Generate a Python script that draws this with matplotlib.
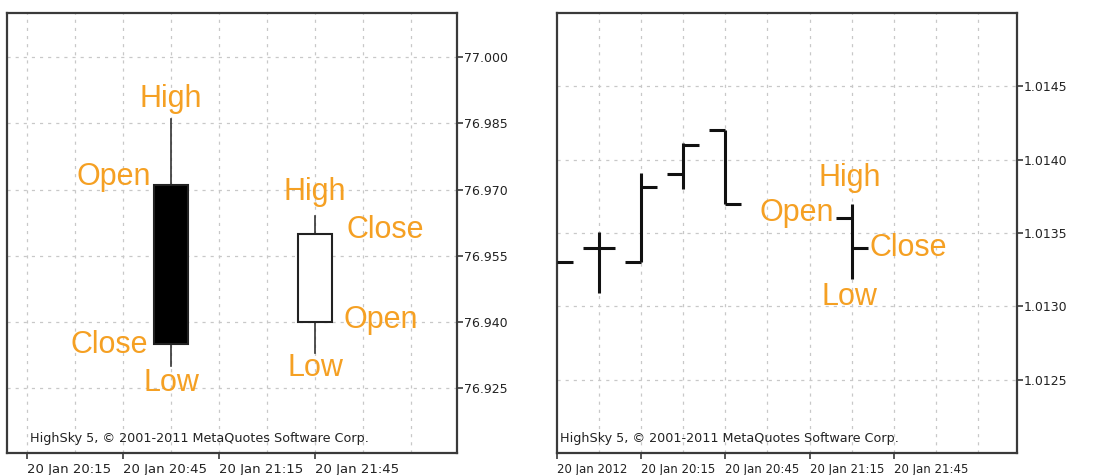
import matplotlib.pyplot as plt
from matplotlib.patches import Rectangle

# candlestick panel (left)
candle_x = [3, 6]
candle_open = [76.971, 76.940]
candle_high = [76.986, 76.964]
candle_low = [76.930, 76.933]
candle_close = [76.935, 76.960]
left_tick_pos = [0, 2, 4, 6]
left_tick_labels = ['20 Jan 20:15', '20 Jan 20:45', '20 Jan 21:15', '20 Jan 21:45']
left_yticks = [77.000, 76.985, 76.970, 76.955, 76.940, 76.925]

# OHLC bar panel (right)
bar_x = [0, 1, 2, 3, 4, 7]
bar_open = [1.01330, 1.01340, 1.01330, 1.01390, 1.01420, 1.01360]
bar_high = [1.01330, 1.01351, 1.01391, 1.01411, 1.01420, 1.01370]
bar_low = [1.01330, 1.01309, 1.01330, 1.01380, 1.01370, 1.01319]
bar_close = [1.01330, 1.01340, 1.01381, 1.01410, 1.01370, 1.01340]
right_tick_pos = [0, 2, 4, 6, 8]
right_tick_labels = ['20 Jan 2012', '20 Jan 20:15', '20 Jan 20:45', '20 Jan 21:15', '20 Jan 21:45']
right_yticks = [1.0145, 1.0140, 1.0135, 1.0130, 1.0125]

orange = '#F5A023'
frame = '#3a3a3a'
copyright = 'HighSky 5, \u00a9 2001-2011 MetaQuotes Software Corp.'

fig = plt.figure(figsize=(11.04, 4.75), dpi=100)
ax1 = fig.add_axes([7 / 1104, 22 / 475, 450 / 1104, 440 / 475])
ax2 = fig.add_axes([557 / 1104, 22 / 475, 460 / 1104, 440 / 475])


def style_axis(ax, xgrid, ygrid, xticks, xlabels, xsize, yticks, yfmt):
    for s in ax.spines.values():
        s.set_color(frame)
        s.set_linewidth(1.6)
    for g in xgrid:
        ax.axvline(g, color='#c8c8c8', lw=0.9, ls=(0, (2.5, 4)), zorder=0)
    for g in ygrid:
        ax.axhline(g, color='#c8c8c8', lw=0.9, ls=(0, (2.5, 4)), zorder=0)
    ax.yaxis.tick_right()
    ax.set_yticks(yticks)
    ax.set_yticklabels([yfmt.format(v) for v in yticks], fontsize=9, color='#222222')
    ax.set_xticks(xticks)
    ax.set_xticklabels(xlabels, fontsize=xsize, color='#222222', ha='left')
    ax.tick_params(axis='both', length=4, width=1.2, color=frame, pad=1)
    ax.tick_params(axis='x', pad=3)


# left: candles
ax1.set_xlim(-0.417, 8.96)
ax1.set_ylim(76.9103, 77.0100)
style_axis(ax1, range(0, 9), left_yticks, left_tick_pos, left_tick_labels, 9.5,
           left_yticks, '{:.3f}')
w = 0.7
for x, o, h, l, c in zip(candle_x, candle_open, candle_high, candle_low, candle_close):
    lo, hi = min(o, c), max(o, c)
    ax1.plot([x, x], [hi, h], color='#333333', lw=1.2, zorder=2)
    ax1.plot([x, x], [l, lo], color='#333333', lw=1.2, zorder=2)
    face = 'black' if c < o else 'white'
    ax1.add_patch(Rectangle((x - w / 2, lo), w, hi - lo, facecolor=face,
                            edgecolor='#222222', lw=1.5, zorder=3))

lab = dict(color=orange, fontsize=22, family='Liberation Sans', va='center')
ax1.text(candle_x[0], candle_high[0] + 0.0045, 'High', ha='center', **lab)
ax1.text(candle_x[0] - 0.42, candle_open[0] + 0.0018, 'Open', ha='right', **lab)
ax1.text(candle_x[0] - 0.48, candle_close[0] - 0.0002, 'Close', ha='right', **lab)
ax1.text(candle_x[0], candle_low[0] - 0.0038, 'Low', ha='center', **lab)
ax1.text(candle_x[1], candle_high[1] + 0.0054, 'High', ha='center', **lab)
ax1.text(candle_x[1] + 0.65, candle_close[1] + 0.0008, 'Close', ha='left', **lab)
ax1.text(candle_x[1] + 0.6, candle_open[1] + 0.0005, 'Open', ha='left', **lab)
ax1.text(candle_x[1], candle_low[1] - 0.0034, 'Low', ha='center', **lab)
ax1.text(0.05, 0.025, copyright, transform=ax1.transAxes, fontsize=9.2, color='#222222')

# right: OHLC bars
ax2.set_xlim(0, 10.93)
ax2.set_ylim(1.012003, 1.014997)
style_axis(ax2, range(1, 11), right_yticks, right_tick_pos, right_tick_labels, 8.5,
           right_yticks, '{:.4f}')
t = 0.38
for x, o, h, l, c in zip(bar_x, bar_open, bar_high, bar_low, bar_close):
    kw = dict(color='#111111', lw=2.2, solid_capstyle='butt', zorder=3, clip_on=True)
    if h > l:
        ax2.plot([x, x], [l, h], **kw)
    if x > 0:
        ax2.plot([x - t, x], [o, o], **kw)
    ax2.plot([x, x + t], [c, c], **kw)

bx = bar_x[-1]
ax2.text(bx - 0.05, bar_high[-1] + 0.000174, 'High', ha='center', **lab)
ax2.text(bx - 0.42, bar_open[-1] + 0.000036, 'Open', ha='right', **lab)
ax2.text(bx + 0.43, bar_close[-1], 'Close', ha='left', **lab)
ax2.text(bx - 0.05, bar_low[-1] - 0.000125, 'Low', ha='center', **lab)
ax2.text(0.006, 0.025, copyright, transform=ax2.transAxes, fontsize=9.2, color='#222222')

fig.savefig('out.png', dpi=100, facecolor='white')
